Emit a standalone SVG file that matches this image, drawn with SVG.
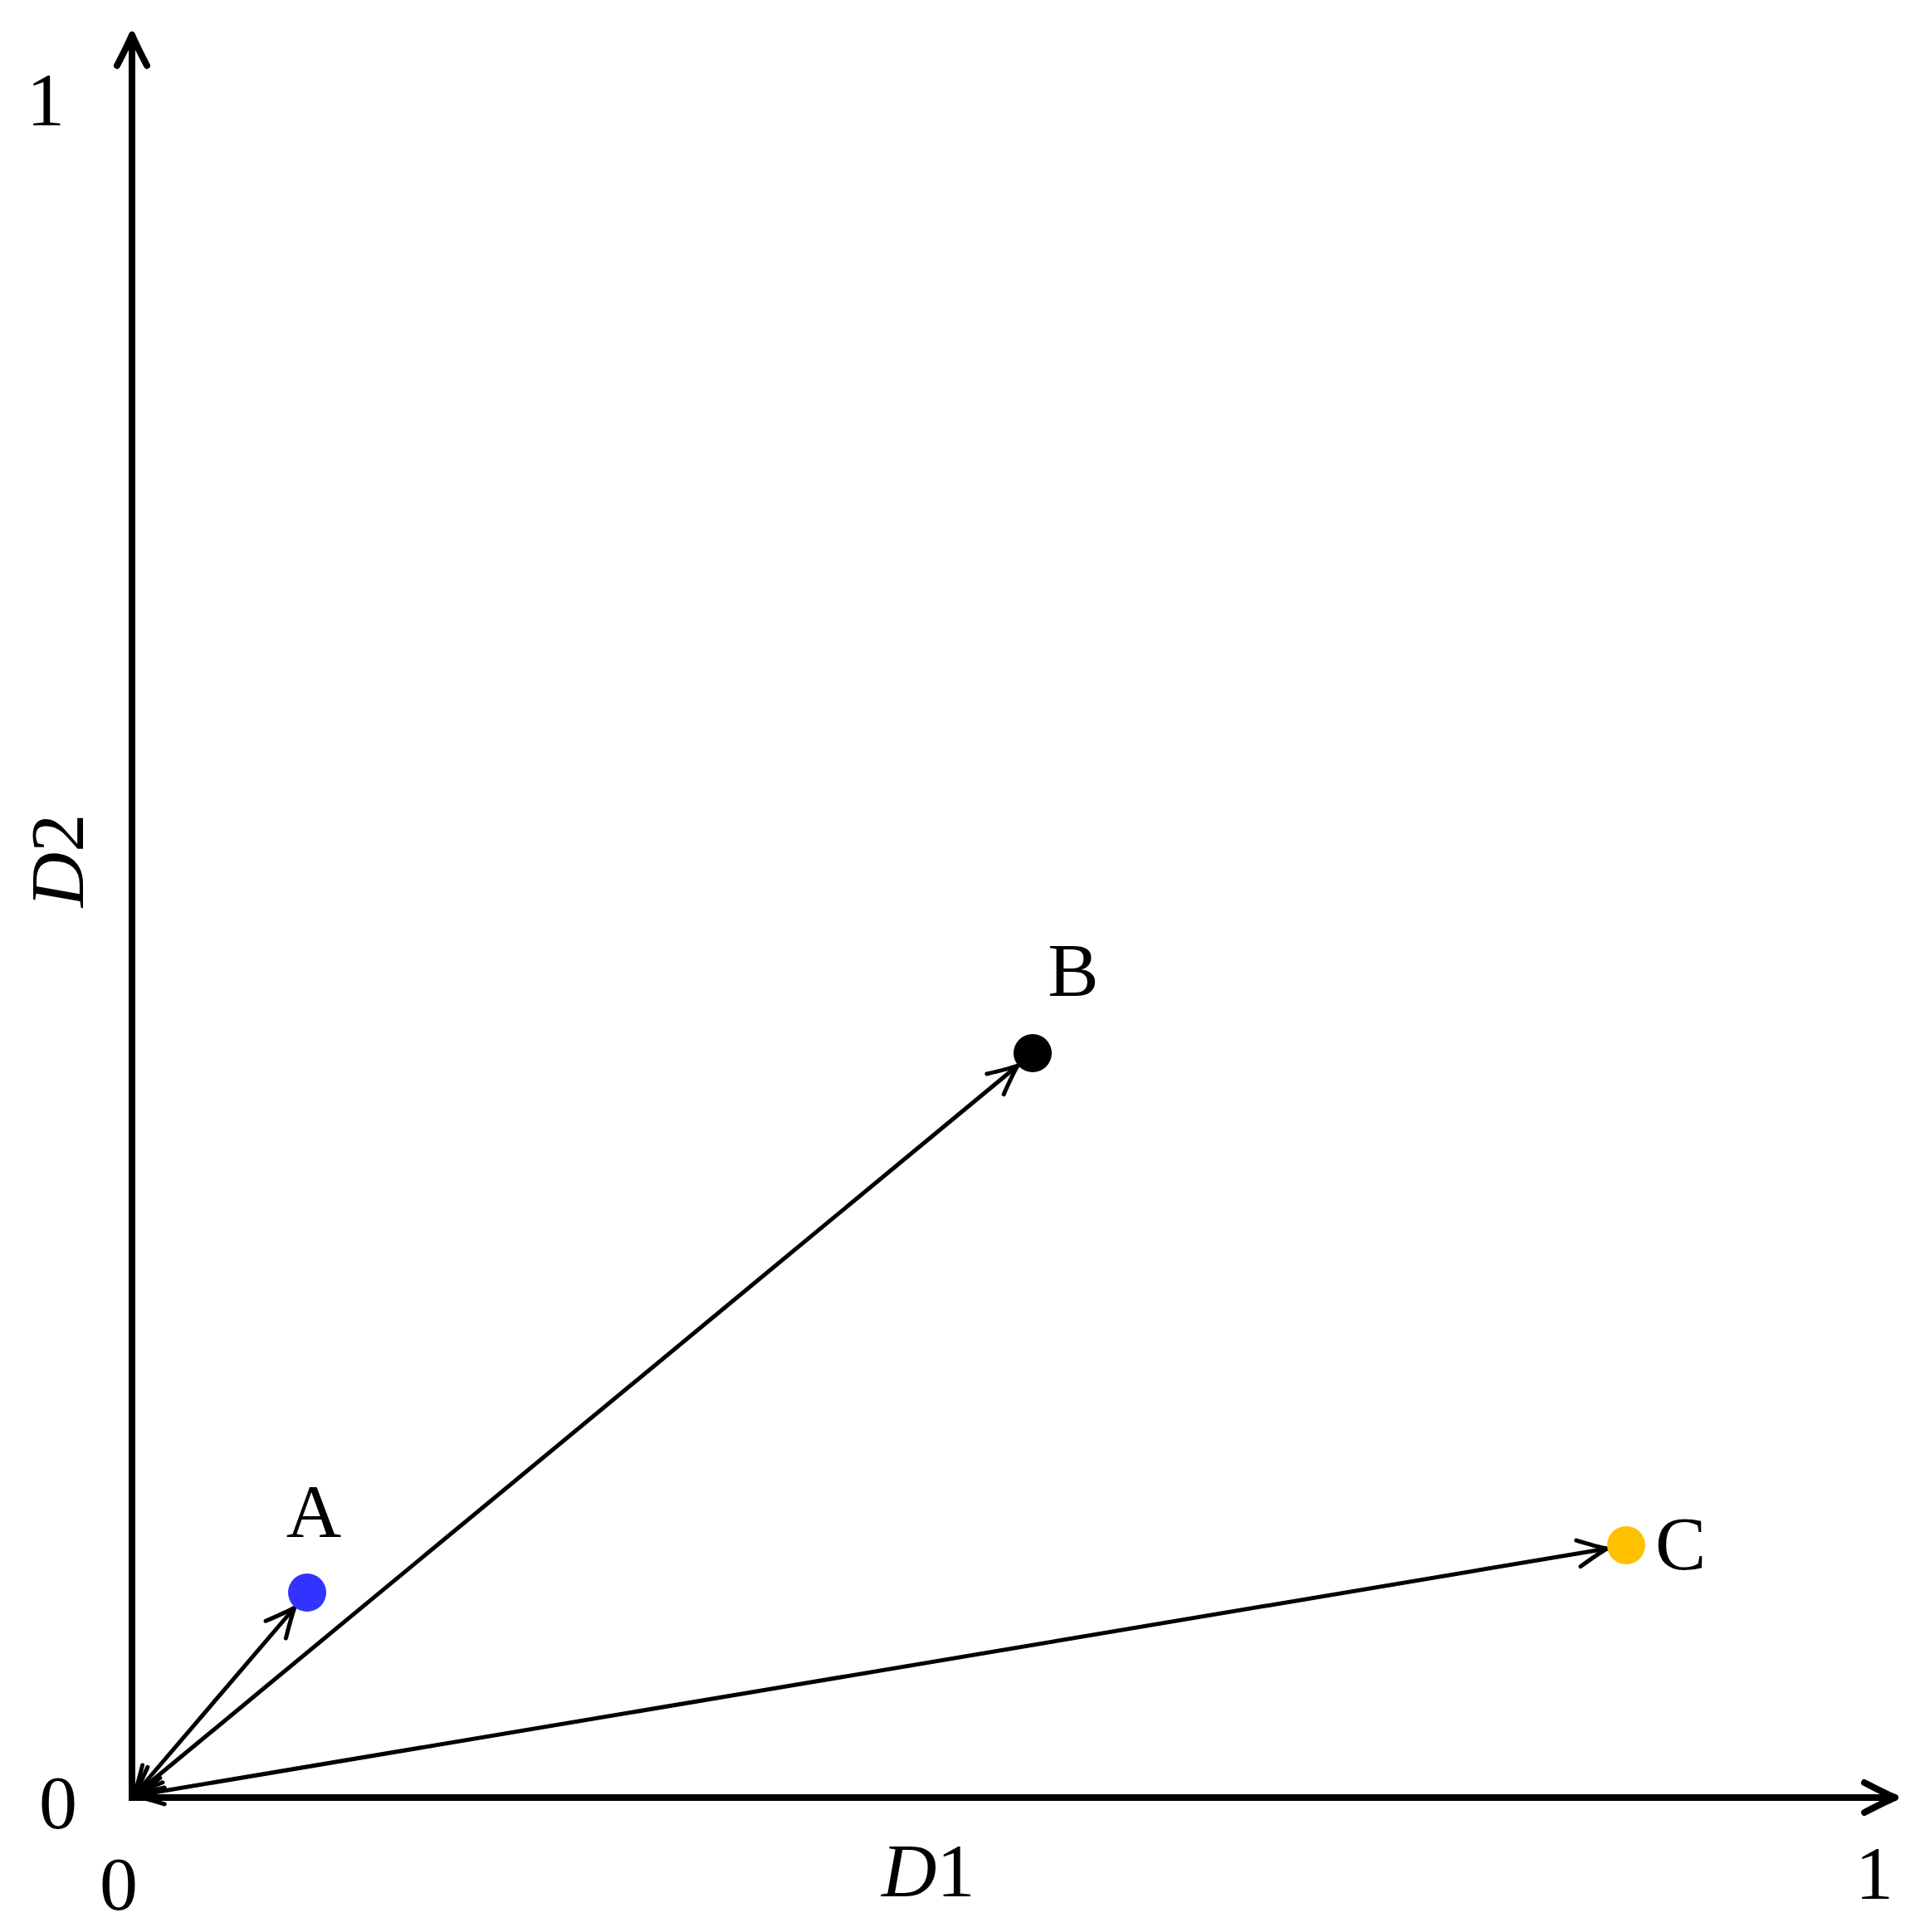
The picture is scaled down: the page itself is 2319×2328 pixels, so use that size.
<svg xmlns="http://www.w3.org/2000/svg" width="2319" height="2328" viewBox="0 0 2319 2328">
<style>
.lbl{font-family:"Liberation Serif","Times New Roman",serif;font-size:92px;fill:#000}
.axis{stroke:#000;stroke-width:8;fill:none}
.vec{stroke:#000;stroke-width:5;fill:none}
</style>
<defs>
<marker id="axhead" markerUnits="userSpaceOnUse" orient="auto" markerWidth="60" markerHeight="60" viewBox="-45 -30 60 60" refX="0" refY="0" overflow="visible">
<path d="M -37,-18 Q -12,-5 0,0 Q -12,5 -37,18" fill="none" stroke="#000" stroke-width="8" stroke-linecap="round" stroke-linejoin="round"/>
</marker>
<marker id="vhead" markerUnits="userSpaceOnUse" orient="auto-start-reverse" markerWidth="60" markerHeight="60" viewBox="-45 -30 60 60" refX="0" refY="0" overflow="visible">
<path d="M -35,-16 Q -11,-4 0,0 Q -11,4 -35,16" fill="none" stroke="#000" stroke-width="5" stroke-linecap="round" stroke-linejoin="round"/>
</marker>
</defs>
<g id="axes">
<line class="axis" x1="159" y1="2170" x2="159" y2="42" marker-end="url(#axhead)"/>
<line class="axis" x1="155" y1="2166" x2="2283" y2="2166" marker-end="url(#axhead)"/>
</g>
<g id="connectors">
<line class="vec" x1="161" y1="2164" x2="355" y2="1937" marker-start="url(#vhead)" marker-end="url(#vhead)"/>
<line class="vec" x1="161" y1="2164" x2="1226" y2="1284" marker-start="url(#vhead)" marker-end="url(#vhead)"/>
<line class="vec" x1="161" y1="2164" x2="1936" y2="1866" marker-start="url(#vhead)" marker-end="url(#vhead)"/>
</g>
<g id="A"><circle cx="370" cy="1919" r="23" fill="#3333FF"/><text class="lbl" x="378" y="1852" text-anchor="middle">A</text></g>
<g id="B"><circle cx="1244" cy="1269" r="23" fill="#000"/><text class="lbl" x="1293" y="1200" text-anchor="middle">B</text></g>
<g id="C"><circle cx="1959" cy="1862" r="23" fill="#FFC000"/><text class="lbl" x="1994" y="1891">C</text></g>
<g id="ticks">
<text class="lbl" x="143" y="2301" text-anchor="middle">0</text>
<text class="lbl" x="2258" y="2288" text-anchor="middle">1</text>
<text class="lbl" x="70" y="2203" text-anchor="middle">0</text>
<text class="lbl" x="55" y="151" text-anchor="middle">1</text>
</g>
<g id="axis-labels">
<text class="lbl" x="1062" y="2285"><tspan font-style="italic">D</tspan>1</text>
<text class="lbl" transform="translate(100,1037) rotate(-90)" text-anchor="middle"><tspan font-style="italic">D</tspan>2</text>
</g>
</svg>
